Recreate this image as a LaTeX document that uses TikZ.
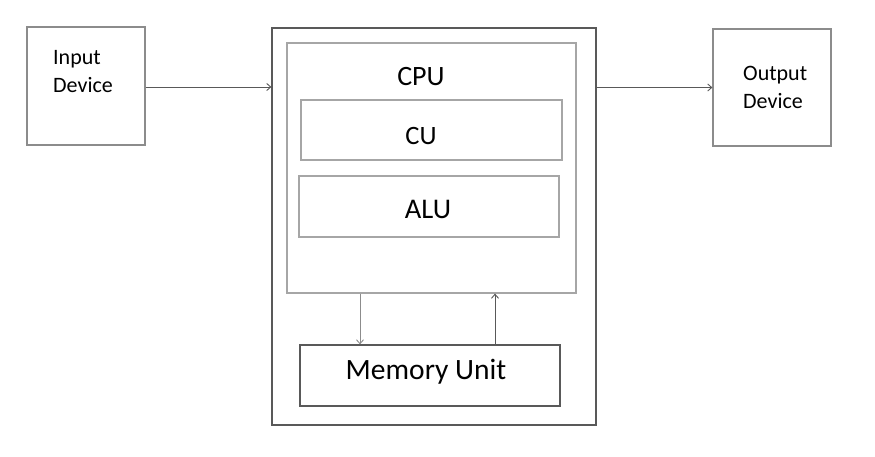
\documentclass[tikz,border=0pt]{standalone}
\usepackage{fontspec}
\setmainfont{Carlito}
\usetikzlibrary{arrows.meta}
\definecolor{cpudark}{HTML}{595959}
\definecolor{cpulight}{HTML}{A6A6A6}
\definecolor{cpumid}{HTML}{8C8C8C}

\begin{document}
\begin{tikzpicture}[x=1pt, y=-1pt,
    unitbox/.style={rectangle, draw=#1, line width=1.2pt, inner sep=0pt},
    biglabel/.style={font=\fontsize{#1}{30}\selectfont, inner sep=0pt},
    smalllabel/.style={font=\fontsize{22}{28}\selectfont, align=left, anchor=west, inner sep=0pt},
    flow/.style={-{Straight Barb[length=4pt, width=7pt]}, line width=0.9pt, draw=#1}]
    \useasboundingbox (0,0) rectangle (875,456);

    % Input and output devices
    \node[unitbox=cpumid, minimum width=118pt, minimum height=118pt] (inp) at (86,86) {};
    \node[smalllabel] (inptext) at (53,72) {Input\\Device};
    \node[unitbox=cpumid, minimum width=118pt, minimum height=117pt] (out) at (772,87.5) {};
    \node[smalllabel] (outtext) at (743,87) {Output\\Device};

    % Computer with CPU and memory
    \node[unitbox=cpudark, minimum width=324pt, minimum height=397pt] (comp) at (434,226.5) {};
    \node[unitbox=cpulight, minimum width=289pt, minimum height=250pt] (cpu) at (431.5,168) {};
    \node[biglabel=28] (cpulabel) at (421,77) {CPU};
    \node[unitbox=cpulight, minimum width=261pt, minimum height=60pt] (cu) at (431.5,130) {};
    \node[biglabel=26.5] (cutext) at (421,136) {CU};
    \node[unitbox=cpulight, minimum width=260pt, minimum height=61pt] (alu) at (429,206.5) {};
    \node[biglabel=28.5] (alutext) at (428,209) {ALU};
    \node[unitbox=cpudark, minimum width=260pt, minimum height=61pt] (mem) at (430,375.5) {};
    \node[biglabel=29.5] (memtext) at (426,372) {Memory Unit};

    % Data paths
    \draw[flow=cpudark] (inp.east |- 0,87) -- (comp.west |- 0,87);
    \draw[flow=cpudark] (comp.east |- out.west) -- (out.west);
    \draw[flow=cpumid] ([xshift=-71.5pt]cpu.south) -- ([xshift=-71.5pt]cpu.south |- mem.north);
    \draw[flow=cpudark] ([xshift=63.5pt]cpu.south |- mem.north) -- ([xshift=63.5pt]cpu.south);
\end{tikzpicture}
\end{document}
